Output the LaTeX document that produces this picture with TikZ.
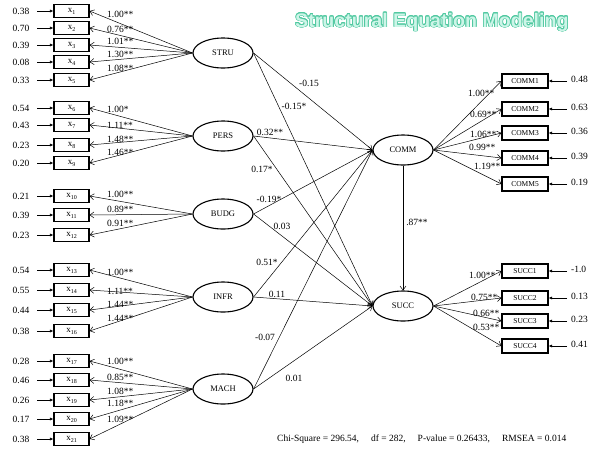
\documentclass[tikz,border=0pt]{standalone}
\usepackage{fontspec}
\setmainfont{Liberation Serif}
\newfontfamily\titlefont{Liberation Sans}
\usepackage{contour}
\usetikzlibrary{arrows.meta,shapes.geometric}
\definecolor{titleline}{RGB}{80,200,160}
\definecolor{titlefill}{RGB}{205,245,232}
\tikzset{
  obs/.style={draw, line width=1.1pt, minimum width=35pt, minimum height=13pt, inner sep=0pt, font=\fontsize{9}{9}\selectfont},
  robs/.style={draw, line width=1.1pt, minimum width=46pt, minimum height=14pt, inner sep=0pt, font=\fontsize{7.5}{8}\selectfont},
  lat/.style={draw, ellipse, line width=1.1pt, minimum width=60pt, minimum height=30pt, inner sep=0pt, font=\fontsize{8.5}{9}\selectfont},
  num/.style={font=\fontsize{9.5}{10}\selectfont, inner sep=0pt},
  load/.style={-{Straight Barb[length=4pt,width=6pt]}, line width=0.5pt},
  err/.style={-{Latex[length=3.5pt,width=3pt]}, line width=0.6pt},
}
\newcommand{\xs}[1]{x\raisebox{-2pt}{\fontsize{6}{6}\selectfont #1}}
\begin{document}
\begin{tikzpicture}[x=1pt,y=-1pt]
\useasboundingbox (0,0) rectangle (599,448);
% title
\contourlength{0.7pt}
\node[anchor=base west, inner sep=0pt, font=\titlefont\bfseries\fontsize{19.6}{20}\selectfont] (title) at (295,27) {\contour{titleline}{\textcolor{titlefill}{Structural Equation Modeling}}};
% latent variables
\node[lat] (STRU) at (223,53) {STRU};
\node[lat] (PERS) at (223,136) {PERS};
\node[lat] (BUDG) at (223,214) {BUDG};
\node[lat] (INFR) at (223,297) {INFR};
\node[lat] (MACH) at (223,389) {MACH};
\node[lat] (COMM) at (403,150) {COMM};
\node[lat] (SUCC) at (403,306) {SUCC};
% left indicators
\foreach \i/\y/\e/\f/\l/\ly in {
  1/11/0.38/STRU/1.00**/14, 2/28/0.70/STRU/0.76**/29, 3/45/0.39/STRU/1.01**/41,
  4/62/0.08/STRU/1.30**/54, 5/80/0.33/STRU/1.08**/68,
  6/108/0.54/PERS/1.00*/109, 7/125/0.43/PERS/1.11**/125, 8/145/0.23/PERS/1.48**/139, 9/163/0.20/PERS/1.46**/152,
  10/196/0.21/BUDG/1.00**/194, 11/215/0.39/BUDG/0.89**/209, 12/235/0.23/BUDG/0.91**/223,
  13/270/0.54/INFR/1.00**/272, 14/290/0.55/INFR/1.11**/291, 15/310/0.44/INFR/1.44**/304, 16/331/0.38/INFR/1.44**/318,
  17/361/0.28/MACH/1.00**/361, 18/380/0.46/MACH/0.85**/377, 19/400/0.26/MACH/1.08**/391,
  20/419/0.17/MACH/1.18**/403, 21/439/0.38/MACH/1.09**/419}{
  \node[obs] (x\i) at (71.5,\y) {\xs{\i}};
  \node[num] (e\i) at (21,\y) {\e};
  \coordinate (ea\i) at (37,\y);
  \draw[err] (ea\i) -- (x\i.west);
  \draw[load] (\f.west) -- (x\i.east);
  \node[num, anchor=west] (l\i) at (107,\ly) {\l};
}
% right indicators COMM
\foreach \i/\y/\e/\l/\lx/\ly in {
  1/81/0.48/1.00**/468/93, 2/109/0.63/0.69**/470/114, 3/133/0.36/1.06**/470/134,
  4/158/0.39/0.99**/469/147, 5/184/0.19/1.19**/474/166}{
  \node[robs] (C\i) at (525,\y) {COMM\i};
  \coordinate (ca\i) at (567,\y);
  \draw[err] (ca\i) -- (C\i.east);
  \node[num, anchor=west] (ce\i) at (571,\y-1.5) {\e};
  \draw[load] (COMM.east) -- (C\i.west);
  \node[num, anchor=west] (cl\i) at (\lx,\ly) {\l};
}
% right indicators SUCC
\foreach \i/\y/\e/\l/\lx/\ly in {
  1/271/-1.0/1.00**/469/275, 2/298/0.13/0.75**/471/297,
  3/321/0.23/0.66**/473/313, 4/346/0.41/0.53**/473/327}{
  \node[robs] (S\i) at (525,\y) {SUCC\i};
  \coordinate (sa\i) at (567,\y);
  \draw[err] (sa\i) -- (S\i.east);
  \node[num, anchor=west] (se\i) at (571,\y-1.5) {\e};
  \draw[load] (SUCC.east) -- (S\i.west);
  \node[num, anchor=west] (sl\i) at (\lx,\ly) {\l};
}
% structural paths
\foreach \a in {STRU,PERS,BUDG,INFR,MACH}{
  \draw[load] (\a.east) -- (COMM.west);
  \draw[load] (\a.east) -- (SUCC.west);
}
\draw[load] (COMM.south) -- (SUCC.north);
\node[num] (p1) at (309,83) {-0.15};
\node[num] (p2) at (294,106) {-0.15*};
\node[num] (p3) at (270,132) {0.32**};
\node[num] (p4) at (262,169) {0.17*};
\node[num] (p5) at (269,199) {-0.19*};
\node[num] (p6) at (282,226) {0.03};
\node[num] (p7) at (267,262) {0.51*};
\node[num] (p8) at (277,294) {0.11};
\node[num] (p9) at (265,337) {-0.07};
\node[num] (p10) at (294,378) {0.01};
\node[num] (p11) at (417,222) {.87**};
% fit statistics
\node[num, anchor=base west] (fit) at (277,441) {Chi-Square = 296.54,\hspace{12pt}df = 282,\hspace{12pt}P-value = 0.26433,\hspace{12pt}RMSEA = 0.014};
\end{tikzpicture}
\end{document}
